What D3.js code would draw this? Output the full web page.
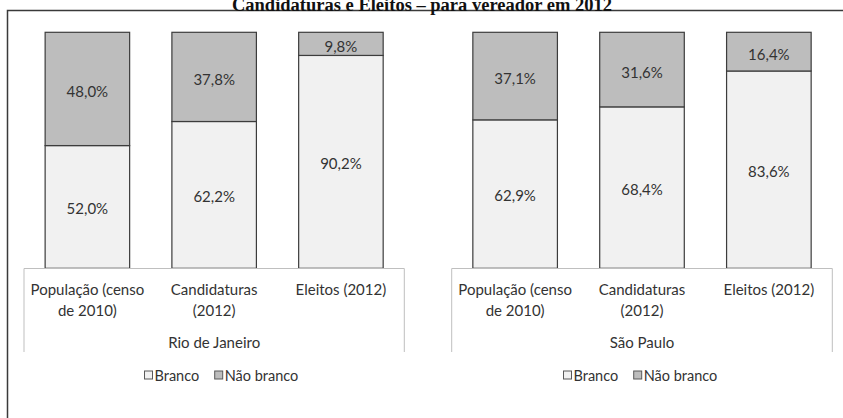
<!DOCTYPE html>
<html>
<head>
<meta charset="utf-8">
<script src="https://cdn.jsdelivr.net/npm/d3@7"></script>
<style>
  html, body { margin: 0; padding: 0; background: #fff; }
  svg { display: block; }
</style>
</head>
<body>
<svg id="chart" width="843" height="418"></svg>
<script>
// ---- data ----
const title = "Candidaturas e Eleitos – para vereador em 2012";
const cities = ["Rio de Janeiro", "São Paulo"];
const categories = ["População (censo de 2010)", "Candidaturas (2012)", "Eleitos (2012)"];
const categoryLines = [["População (censo", "de 2010)"], ["Candidaturas", "(2012)"], ["Eleitos (2012)"]];
const seriesNames = ["Branco", "Não branco"];
const brancoRio = [52.0, 62.2, 90.2];
const naoBrancoRio = [48.0, 37.8, 9.8];
const brancoSP = [62.9, 68.4, 83.6];
const naoBrancoSP = [37.1, 31.6, 16.4];
const valueLabels = [["52,0%", "62,2%", "90,2%"], ["62,9%", "68,4%", "83,6%"]];
const valueLabelsNB = [["48,0%", "37,8%", "9,8%"], ["37,1%", "31,6%", "16,4%"]];

const brancoByCity = [brancoRio, brancoSP];
const naoBrancoByCity = [naoBrancoRio, naoBrancoSP];

// ---- layout ----
const svg = d3.select("#chart");
const colors = { "Branco": "#f1f1f1", "Não branco": "#bdbdbd" };
const font = "Lato, 'Open Sans', sans-serif";
const textColor = "#333";

const panels = [
  { x0: 24, x1: 404.3, legendX: 144 },
  { x0: 451.7, x1: 832.3, legendX: 563 }
];
const y = d3.scaleLinear().domain([0, 100]).range([268.3, 32.3]);

// outer frame (left + top only)
svg.append("path")
  .attr("d", "M7.5,420 V10.5 H845")
  .attr("fill", "none")
  .attr("stroke", "#3a3a3a")
  .attr("stroke-width", 1.5);

// title (partially clipped at top, as in the reference)
svg.append("text")
  .attr("x", 422)
  .attr("y", 10.5)
  .attr("text-anchor", "middle")
  .attr("font-family", "'Liberation Serif', 'Times New Roman', serif")
  .attr("font-weight", "bold")
  .attr("font-size", 18.5)
  .attr("fill", "#111")
  .text(title);

panels.forEach((p, ci) => {
  const g = svg.append("g");
  const x = d3.scaleBand()
    .domain(categories)
    .range([p.x0, p.x1])
    .paddingInner(1 / 3)
    .paddingOuter(1 / 6);

  const stacked = categories.map((c, i) => ({
    cat: c,
    b: brancoByCity[ci][i],
    nb: naoBrancoByCity[ci][i],
    lb: valueLabels[ci][i],
    lnb: valueLabelsNB[ci][i]
  }));

  // Branco segments
  g.selectAll("rect.b").data(stacked).join("rect")
    .attr("x", d => x(d.cat))
    .attr("width", x.bandwidth())
    .attr("y", d => y(d.b))
    .attr("height", d => y(0) - y(d.b))
    .attr("fill", colors["Branco"])
    .attr("stroke", "#3c3c3c")
    .attr("stroke-width", 1.2);

  // Não branco segments
  g.selectAll("rect.nb").data(stacked).join("rect")
    .attr("x", d => x(d.cat))
    .attr("width", x.bandwidth())
    .attr("y", d => y(d.b + d.nb))
    .attr("height", d => y(d.b) - y(d.b + d.nb))
    .attr("fill", colors["Não branco"])
    .attr("stroke", "#3c3c3c")
    .attr("stroke-width", 1.2);

  // value labels
  g.selectAll("text.vb").data(stacked).join("text")
    .attr("x", d => x(d.cat) + x.bandwidth() / 2)
    .attr("y", d => (y(0) + y(d.b)) / 2 + 1)
    .attr("text-anchor", "middle")
    .attr("dominant-baseline", "central")
    .attr("font-family", font)
    .attr("font-size", 15)
    .attr("fill", textColor)
    .text(d => d.lb);

  g.selectAll("text.vnb").data(stacked).join("text")
    .attr("x", d => x(d.cat) + x.bandwidth() / 2)
    .attr("y", d => (y(d.b) + y(d.b + d.nb)) / 2 + 2)
    .attr("text-anchor", "middle")
    .attr("dominant-baseline", "central")
    .attr("font-family", font)
    .attr("font-size", 15)
    .attr("fill", textColor)
    .text(d => d.lnb);

  // category axis box
  g.append("path")
    .attr("d", `M${p.x0},352 V268.5 H${p.x1} V352`)
    .attr("fill", "none")
    .attr("stroke", "#bfbfbf")
    .attr("stroke-width", 1);

  // category labels
  categories.forEach((c, i) => {
    categoryLines[i].forEach((line, li) => {
      g.append("text")
        .attr("x", x(c) + x.bandwidth() / 2)
        .attr("y", 289 + li * 21)
        .attr("text-anchor", "middle")
        .attr("dominant-baseline", "central")
        .attr("font-family", font)
        .attr("font-size", 15)
        .attr("fill", textColor)
        .text(line);
    });
  });

  // city label
  g.append("text")
    .attr("x", (p.x0 + p.x1) / 2)
    .attr("y", 341.5)
    .attr("text-anchor", "middle")
    .attr("dominant-baseline", "central")
    .attr("font-family", font)
    .attr("font-size", 15)
    .attr("fill", textColor)
    .text(cities[ci]);

  // legend
  const lg = g.append("g").attr("transform", `translate(${p.legendX},375)`);
  let lx = 0;
  seriesNames.forEach((s, si) => {
    lg.append("rect")
      .attr("x", lx + 0.5)
      .attr("y", -4)
      .attr("width", 8)
      .attr("height", 8)
      .attr("fill", colors[s])
      .attr("stroke", "#595959")
      .attr("stroke-width", 1);
    const t = lg.append("text")
      .attr("x", lx + 10.5)
      .attr("y", 0)
      .attr("dominant-baseline", "central")
      .attr("font-family", font)
      .attr("font-size", 14.5)
      .attr("fill", textColor)
      .text(s);
    lx += 10.5 + t.node().getComputedTextLength() + 15;
  });
});
</script>
</body>
</html>
